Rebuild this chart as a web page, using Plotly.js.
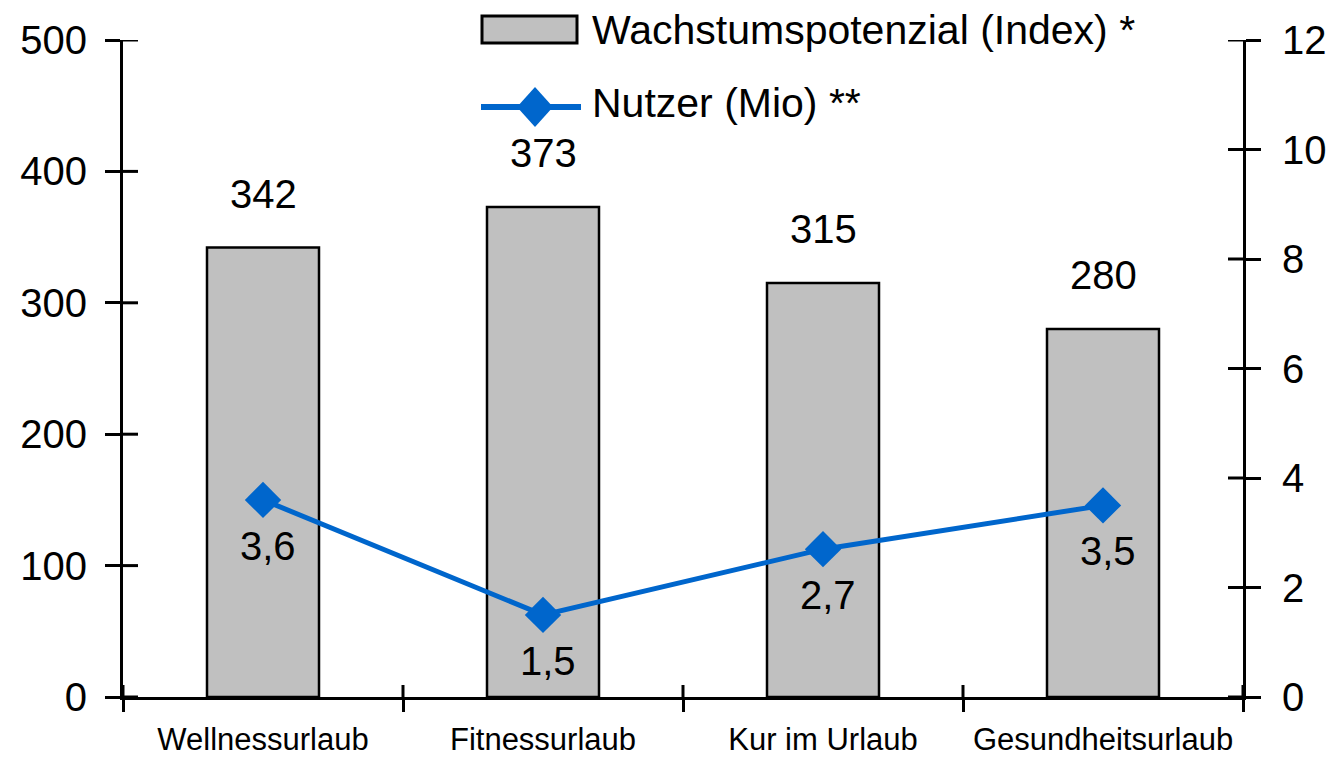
<!DOCTYPE html>
<html>
<head>
<meta charset="utf-8">
<script src="https://cdn.plot.ly/plotly-3.0.1.min.js"></script>
<style>html,body{margin:0;padding:0;background:#fff;}#chart{width:1328px;height:766px;}</style>
</head>
<body>
<div id="chart"></div>
<script>
const categories = ["Wellnessurlaub", "Fitnessurlaub", "Kur im Urlaub", "Gesundheitsurlaub"];
const wachstum = [342, 373, 315, 280];
const nutzer = [3.6, 1.5, 2.7, 3.5];
const barName = "Wachstumspotenzial (Index) *";
const lineName = "Nutzer (Mio) **";
const leftTicks = [0, 100, 200, 300, 400, 500];
const rightTicks = [0, 2, 4, 6, 8, 10, 12];

const FONT = "Liberation Sans, Arial, sans-serif";
const BLUE = "#0066CC";
const GREY = "#C0C0C0";

// plot area in pixels (for paper-coordinate conversion of the legend)
const L = 123, R = 1243, T = 40, B = 697;
const px = x => (x - L) / (R - L);
const py = y => (B - y) / (B - T);

const traces = [
  {
    type: "bar", x: categories, y: wachstum, name: barName,
    width: 0.4,
    marker: {color: GREY, line: {color: "#000", width: 2.5}},
    hoverinfo: "x+y", showlegend: false
  },
  {
    type: "scatter", mode: "lines+markers", x: categories, y: nutzer, name: lineName,
    yaxis: "y2",
    line: {color: BLUE, width: 5},
    marker: {symbol: "diamond", size: 28, color: BLUE},
    showlegend: false, cliponaxis: false
  }
];

const annotations = [];
categories.forEach((c, i) => {
  annotations.push({
    x: c, y: wachstum[i], xref: "x", yref: "y", text: String(wachstum[i]),
    showarrow: false, yshift: 54, yanchor: "middle",
    font: {family: FONT, size: 40, color: "#000"}
  });
  annotations.push({
    x: c, y: nutzer[i], xref: "x", yref: "y2", text: nutzer[i].toFixed(1).replace(".", ","),
    showarrow: false, yshift: -46, xshift: 5, yanchor: "middle",
    font: {family: FONT, size: 40, color: "#000"}
  });
});
annotations.push({
  x: px(590), y: py(30), xref: "paper", yref: "paper", xanchor: "left", yanchor: "middle",
  text: barName, showarrow: false, font: {family: FONT, size: 41, color: "#000"}
});
annotations.push({
  x: px(590), y: py(103), xref: "paper", yref: "paper", xanchor: "left", yanchor: "middle",
  text: lineName, showarrow: false, font: {family: FONT, size: 41, color: "#000"}
});

const dx = 18 / (R - L), dy = 20 / (B - T);
const mx = px(535), my = py(107);
const shapes = [
  {type: "rect", xref: "paper", yref: "paper", x0: px(482), x1: px(577), y0: py(43), y1: py(16),
   fillcolor: GREY, line: {color: "#000", width: 3}},
  {type: "line", xref: "paper", yref: "paper", x0: px(481), x1: px(581), y0: my, y1: my,
   line: {color: BLUE, width: 6}},
  {type: "path", xref: "paper", yref: "paper",
   path: `M ${mx - dx},${my} L ${mx},${my + dy} L ${mx + dx},${my} L ${mx},${my - dy} Z`,
   fillcolor: BLUE, line: {color: BLUE, width: 0}}
];
// inner halves of the crossing tick marks
const tickIn = {color: "#000", width: 3};
leftTicks.forEach(v => shapes.push({type: "line", xref: "paper", yref: "y", x0: 0, x1: 15 / (R - L), y0: v, y1: v, line: tickIn}));
rightTicks.forEach(v => shapes.push({type: "line", xref: "paper", yref: "y2", x0: 1, x1: 1 - 15 / (R - L), y0: v, y1: v, line: tickIn}));
for (let i = 0; i <= categories.length; i++) {
  shapes.push({type: "line", xref: "x", yref: "paper", x0: i - 0.5, x1: i - 0.5, y0: 0, y1: 12 / (B - T), line: tickIn});
}

const tickFont = {family: FONT, size: 40, color: "#000"};

const layout = {
  width: 1328, height: 766,
  margin: {l: L, r: 1328 - R, t: T, b: 766 - B, pad: 0},
  paper_bgcolor: "#fff", plot_bgcolor: "#fff",
  separators: ",.",
  showlegend: false,
  font: {family: FONT, color: "#000"},
  bargap: 0.6,
  xaxis: {
    type: "category", categoryorder: "array", categoryarray: categories,
    range: [-0.5, categories.length - 0.5],
    tickson: "boundaries", ticks: "outside", ticklen: 12, tickwidth: 3, tickcolor: "#000",
    showline: true, linecolor: "#000", linewidth: 3,
    showgrid: false, zeroline: false,
    tickfont: {family: FONT, size: 31, color: "#000"}, ticklabelstandoff: 13
  },
  yaxis: {
    range: [0, 500], tickmode: "array", tickvals: leftTicks,
    ticks: "outside", ticklen: 15, tickwidth: 3, tickcolor: "#000",
    showline: true, linecolor: "#000", linewidth: 3,
    showgrid: false, zeroline: false, tickfont: tickFont, ticklabelstandoff: 10
  },
  yaxis2: {
    overlaying: "y", side: "right", anchor: "x",
    range: [0, 12], tickmode: "array", tickvals: rightTicks,
    ticks: "outside", ticklen: 15, tickwidth: 3, tickcolor: "#000",
    showline: true, linecolor: "#000", linewidth: 3,
    showgrid: false, zeroline: false, tickfont: tickFont, ticklabelstandoff: 13
  },
  annotations: annotations,
  shapes: shapes
};

Plotly.newPlot("chart", traces, layout, {displayModeBar: false, staticPlot: true});
</script>
</body>
</html>
